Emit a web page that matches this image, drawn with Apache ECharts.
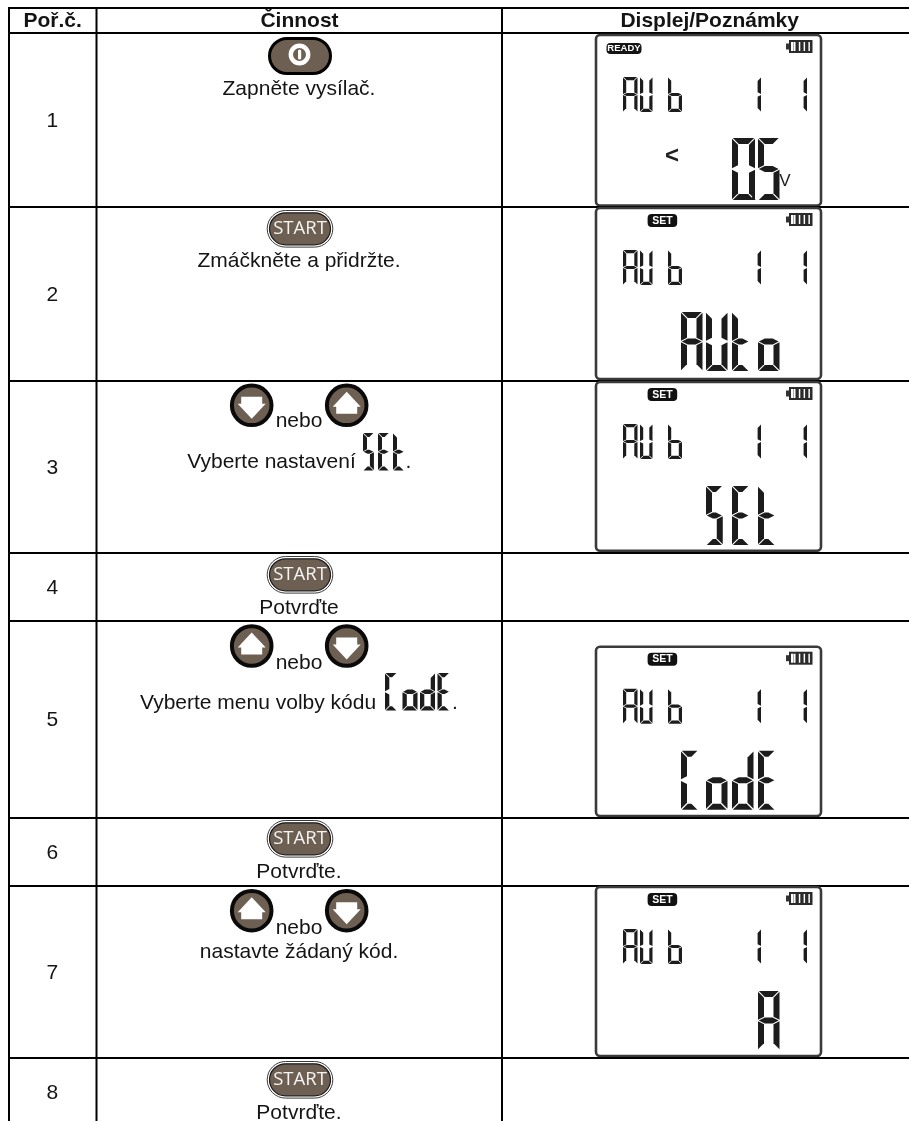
<!DOCTYPE html>
<html><head><meta charset="utf-8">
<style>html,body{margin:0;padding:0;background:#fff}#c{width:909px;height:1121px}</style>
<script src="https://cdn.jsdelivr.net/npm/echarts@6/dist/echarts.min.js"></script>
</head><body><div id="c"></div>
<script>
// ---- content ----
const headers = ['Poř.č.', 'Činnost', 'Displej/Poznámky'];
const stepNumbers = ['1', '2', '3', '4', '5', '6', '7', '8'];
const captions = ['Zapněte vysílač.', 'Zmáčkněte a přidržte.', 'Vyberte nastavení', 'Potvrďte', 'Vyberte menu volby kódu', 'Potvrďte.', 'nastavte žádaný kód.', 'Potvrďte.'];
const joinWord = 'nebo';
const buttons = ['power', 'start', 'downUp', 'start', 'upDown', 'start', 'upDown', 'start'];
const inlineLcd = [null, null, 'SEt', null, 'CodE', null, null, null];
const mainLcd = ['05', 'AUto', 'SEt', null, 'CodE', null, 'A', null];
const badges = ['READY', 'SET', 'SET', null, 'SET', null, 'SET', null];
const startLabel = 'START';

// ---- layout (pixels on the hidden page axes) ----
const W = 909, H = 1121;
const ruleY = [33, 207, 381, 553, 621, 818, 886, 1058];
const rowBottom = [207, 381, 553, 621, 818, 886, 1058, 1126];
const colX = [9, 96.5, 502];
const btnTop = [37, 210, 0, 556, 0, 820, 0, 1061];
const circleY = [0, 0, 405.3, 0, 646, 0, 910.7, 0];
const joinBase = [0, 0, 428, 0, 670, 0, 935, 0];
const captionBase = [96.7, 268, 469.3, 615, 710, 879.3, 959, 1120];
const captionX = [299, 299, 271.5, 299, 258, 299, 299, 299];
const inlineBox = { 2: [363, 433, 14, 37.5, 15, 4, 408.5], 4: [385, 673, 15, 37.5, 17.5, 4.3, 455] };
const frameTop = [35, 208, 382, 0, 646.7, 0, 887, 0];
const frameBottom = [205.5, 379, 550.7, 0, 816, 0, 1056, 0];
const FX0 = 596, FX1 = 821;
const bigCols = [681, 706, 732, 758];
const bigStart = [2, 0, 1, 0, 0, 0, 3, 0];

const BROWN = '#6e5f53', INK = '#141414', SEG = '#1c1c1c';
const FONT = '"Liberation Sans", Arial, sans-serif';

const SEGS = { A:'abcefg', U:'bcdef', b:'cdefg', t:'defg', o:'cdeg', S:'acdfg', E:'adefg', C:'adef', d:'bcdeg', '0':'abcdef', '5':'acdfg', '1':'bc' };
const NARROW = { S:.78, E:.8, t:.8, C:.8 };

function renderRow(params, api) {
  const r = params.dataIndex;
  const P = (x, y) => api.coord([x, y]);
  const kids = [];
  const poly = (pts, fill) => kids.push({ type:'polygon', shape:{ points: pts.map(p => P(p[0], p[1])) }, style:{ fill: fill || SEG } });
  const rect = (x, y, w, h, fill, rad, stroke, lw) => { const a = P(x, y); kids.push({ type:'rect', shape:{ x:a[0], y:a[1], width:w, height:h, r:rad || 0 }, style:{ fill, stroke, lineWidth:lw || 0 } }); };
  const circ = (x, y, rr, fill, stroke, lw) => { const a = P(x, y); kids.push({ type:'circle', shape:{ cx:a[0], cy:a[1], r:rr }, style:{ fill, stroke, lineWidth:lw || 0 } }); };
  const text = (s, x, y, size, opt) => { opt = opt || {}; const a = P(x, y); kids.push({ type:'text', style:{ text:s, x:a[0], y:a[1], fill:opt.fill || INK, align:opt.align || 'center', verticalAlign:'middle', font:(opt.weight || 'normal') + ' ' + size + 'px ' + (opt.family || FONT) } }); };
  const base = (s, x, b, size, opt) => text(s, x, b - size * 0.345, size, opt);

  function glyph(ch, x, y, w0, h, t) {
    const w = w0 * (NARROW[ch] || 1), g = Math.max(.5, t * .14), m = y + h / 2, R = x + w, B = y + h;
    const map = {
      a: [[x+g,y],[R-g,y],[R-g-t,y+t],[x+g+t,y+t]],
      d: [[x+g,B],[R-g,B],[R-g-t,B-t],[x+g+t,B-t]],
      b: [[R,y+g],[R,m-g],[R-t,m-g-t/2],[R-t,y+g+t]],
      c: [[R,B-g],[R,m+g],[R-t,m+g+t/2],[R-t,B-g-t]],
      f: [[x,y+g],[x,m-g],[x+t,m-g-t/2],[x+t,y+g+t]],
      e: [[x,B-g],[x,m+g],[x+t,m+g+t/2],[x+t,B-g-t]],
      g: [[x+g,m],[x+g+t,m-t/2],[R-g-t,m-t/2],[R-g,m],[R-g-t,m+t/2],[x+g+t,m+t/2]]
    };
    SEGS[ch].split('').forEach(k => poly(map[k]));
  }

  function pill(y0, kind) {
    if (kind === 'power') {
      rect(269.5, y0 + 1.5, 61, 35, BROWN, 17.5, '#000', 3);
      circ(299.5, y0 + 17.5, 8.7, BROWN, '#fff', 4.4);
      rect(298, y0 + 12.5, 3.2, 10, '#fff', 1.6);
    } else {
      rect(267.2, y0 + .5, 65.6, 36.6, '#fff', 18.3, '#3a3a3a', 1);
      rect(269.5, y0 + 2.8, 61, 32, BROWN, 16, '#1a1a1a', 1.2);
      text(startLabel, 300, y0 + 19, 18.5, { fill:'#f4f4f2', family:'"Open Sans", sans-serif' });
    }
  }
  function arrow(cx, cy, up) {
    circ(cx, cy, 19.8, BROWN, '#0a0a0a', 4);
    const s = up ? 1 : -1;
    poly([[cx, cy-13.5*s],[cx+14, cy+1.5*s],[cx+10.5, cy+1.5*s],[cx+10.5, cy+8.5*s],[cx-10.5, cy+8.5*s],[cx-10.5, cy+1.5*s],[cx-14, cy+1.5*s]], '#fff');
  }

  // rules
  const ya = ruleY[r];
  if (r === 0) {
    const t = P(0, 8);
    kids.push({ type:'line', shape:{ x1:colX[0]-1, y1:t[1], x2:W, y2:t[1] }, style:{ stroke:'#000', lineWidth:2 } });
    text(headers[0], 52.7, 20.8, 21, { weight:'bold' });
    text(headers[1], 299.5, 20.8, 21, { weight:'bold' });
    text(headers[2], 709.7, 20.8, 21, { weight:'bold' });
    colX.forEach(x => { const a = P(x, 8), b = P(x, H); kids.push({ type:'line', shape:{ x1:a[0], y1:a[1], x2:b[0], y2:b[1] }, style:{ stroke:'#000', lineWidth:2 } }); });
  }
  const a = P(colX[0], ya), b = P(W, ya);
  kids.push({ type:'line', shape:{ x1:a[0], y1:a[1], x2:b[0], y2:b[1] }, style:{ stroke:'#000', lineWidth:2 } });

  text(stepNumbers[r], 52.3, (ya + rowBottom[r]) / 2 + 1, 21);

  // action cell
  const kind = buttons[r];
  if (kind === 'power' || kind === 'start') pill(btnTop[r], kind);
  else {
    arrow(251.7, circleY[r], kind === 'upDown');
    arrow(346.7, circleY[r], kind !== 'upDown');
    base(joinWord, 299, joinBase[r], 21);
  }
  base(captions[r], captionX[r], captionBase[r], 21);
  if (inlineLcd[r]) {
    const ib = inlineBox[r];
    inlineLcd[r].split('').forEach((c, i) => glyph(c, ib[0] + ib[4] * i, ib[1], ib[2], ib[3], ib[5]));
    base('.', ib[6], captionBase[r], 21);
  }

  // display cell
  if (frameTop[r]) {
    const T = frameTop[r], Bt = frameBottom[r];
    rect(FX0, T, FX1 - FX0, Bt - T, '#fff', 4, '#3a3a3a', 2.6);
    const by = T + (r === 0 ? 8 : 6);
    if (r === 0) { rect(606.5, by, 35, 11, '#141414', 4); text(badges[r], 624, by + 5.8, 9.5, { fill:'#fff', weight:'bold' }); }
    else { rect(647.6, by, 29.6, 13, '#111', 4); text(badges[r], 662.4, by + 6.8, 10.5, { fill:'#fff', weight:'bold' }); }
    // battery
    const bt = T + 5;
    rect(786, bt + 3.5, 3, 6, '#333');
    rect(789, bt, 23.5, 13, '#2b2b2b');
    [791.2, 796, 800.8, 805.6].forEach(x => rect(x + 2.8, bt + 2, 1.5, 9, '#fff'));
    rect(791, bt + 2, 2.6, 9, '#fff');
    // small line
    const sy = T + 42;
    glyph('A', 623, sy, 14.5, 35, 3.2); glyph('U', 640, sy, 12.5, 35, 3.2);
    glyph('b', 668, sy, 14, 35, 3.2);
    glyph('1', 747, sy, 14, 35, 3.4); glyph('1', 793, sy, 14, 35, 3.4);
    // main line
    const word = mainLcd[r], first = bigStart[r];
    const h = r === 0 ? 62 : 59, top = T + (r === 0 ? 103 : 104);
    word.split('').forEach((c, i) => glyph(c, bigCols[first + i], top, r === 0 && i === 0 ? 23 : 21.5, h, 6));
    if (r === 0) {
      poly([[753, 195.5],[755.5, 200],[750.5, 200]]);
      base('<', 672, 164.5, 24, { fill:'#222', weight:'bold' });
      base('V', 785, 187.5, 17, { fill:'#222' });
    }
  }
  return { type:'group', children:kids };
}

const chart = echarts.init(document.getElementById('c'), null, { renderer:'canvas' });
chart.setOption({
  animation:false,
  backgroundColor:'#fff',
  grid:{ left:0, right:0, top:0, bottom:0 },
  xAxis:{ type:'value', min:0, max:W, show:false },
  yAxis:{ type:'value', min:0, max:H, inverse:true, show:false },
  series:[{ type:'custom', coordinateSystem:'cartesian2d', clip:false, silent:true,
    encode:{ x:0, y:1 }, renderItem:renderRow,
    data: stepNumbers.map((s, i) => [0, ruleY[i]]) }]
});
</script></body></html>
